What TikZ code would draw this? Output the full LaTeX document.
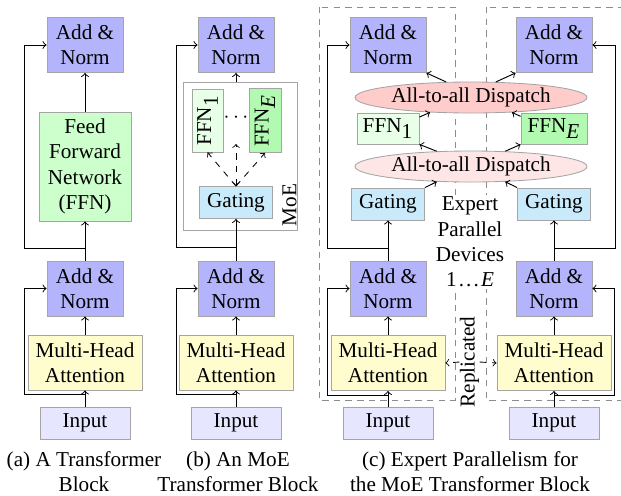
\documentclass[tikz,border=0pt]{standalone}
\usepackage{fontspec}
\setmainfont{Liberation Serif}
\usepackage{graphicx}
\usetikzlibrary{shapes.geometric}

\definecolor{andcol}{RGB}{180,180,252}
\definecolor{ffncol}{RGB}{204,255,204}
\definecolor{ffnlite}{RGB}{232,255,232}
\definecolor{ffndark}{RGB}{178,250,178}
\definecolor{mhacol}{RGB}{255,253,206}
\definecolor{inpcol}{RGB}{230,230,255}
\definecolor{gatecol}{RGB}{200,234,250}
\definecolor{dispdark}{RGB}{255,204,204}
\definecolor{displite}{RGB}{255,230,230}
\definecolor{edgecol}{RGB}{165,165,165}
\definecolor{dashcol}{RGB}{140,140,140}

\begin{document}
\begin{tikzpicture}[x=0.472pt,y=-0.472pt,
  box/.style={draw=edgecol,line width=0.4pt,inner sep=0pt,align=center},
  sz/.style 2 args={minimum width=#1*0.472pt,minimum height=#2*0.472pt},
  addn/.style={box,fill=andcol,sz={76}{55}},
  mha/.style={box,fill=mhacol,sz={114}{55}},
  inp/.style={box,fill=inpcol,sz={90}{32}},
  gate/.style={box,fill=gatecol,sz={73}{32}},
  disp/.style={ellipse,draw=edgecol,line width=0.4pt,inner sep=0pt,sz={232}{31}},
  conn/.style={->,line width=0.45pt},
  devbox/.style={draw=dashcol,dash pattern=on 3pt off 2.5pt,line width=0.35pt},
  captext/.style={align=center,inner sep=0pt},
]
\useasboundingbox (0,0) rectangle (621,495);

% ---------- (a) Transformer block ----------
\node[addn] (aA1) at (85,45) {Add \&\\Norm};
\node[box,fill=ffncol,sz={92}{109}] (aF) at (85,166.5) {Feed\\Forward\\Network\\(FFN)};
\node[addn] (aA2) at (85,288.5) {Add \&\\Norm};
\node[mha] (aM) at (85,362.5) {Multi-Head\\Attention};
\node[inp] (aI) at (85,423) {Input};
\coordinate (aR1) at (85,248);
\coordinate (aR2) at (85,394);
\draw[conn] (aF) -- (aA1);
\draw[conn] (aA2) -- (aF);
\draw[conn] (aR1) -- ++(-61,0) |- (aA1.west);
\draw[conn] (aM) -- (aA2);
\draw[conn] (aI) -- (aM);
\draw[conn] (aR2) -- ++(-61,0) |- (aA2.west);
\node[captext] (capA) at (84,471.5) {(a) A Transformer\\Block};

% ---------- (b) MoE transformer block ----------
\node[box,sz={114}{148}] (bMoE) at (240,156) {};
\node[inner sep=0pt] (bMoEl) at (289.5,205) {\rotatebox{90}{MoE}};
\node[addn] (bA1) at (236,45) {Add \&\\Norm};
\node[box,fill=ffnlite,sz={31}{63}] (bF1) at (207.5,120.5) {\rotatebox{90}{FFN$_{\textrm{1}}$}};
\node[box,fill=ffndark,sz={32}{64}] (bFE) at (265,120.5) {\rotatebox{90}{FFN$_{\textit{E}}$}};
\node[inner sep=0pt] (bDots) at (236,118) {$\cdots$};
\node[gate] (bG) at (236,202.5) {Gating};
\coordinate (bMid) at (236,144);
\draw[dashed,<->] (bG.north) -- (bMid);
\draw[dashed,->] (bG.north) -- (bF1.south);
\draw[dashed,->] (bG.north) -- (bFE.south);
\draw[conn] (bMoE.north -| bA1.south) -- (bA1.south);
\node[addn] (bA2) at (236,288.5) {Add \&\\Norm};
\node[mha] (bM) at (236,362.5) {Multi-Head\\Attention};
\node[inp] (bI) at (236,423) {Input};
\coordinate (bR1) at (236,247);
\coordinate (bR2) at (236,394);
\draw[conn] (bA2) -- (bG);
\draw[conn] (bR1) -- ++(-60,0) |- (bA1.west);
\draw[conn] (bM) -- (bA2);
\draw[conn] (bI) -- (bM);
\draw[conn] (bR2) -- ++(-60,0) |- (bA2.west);
\node[captext] (capB) at (238,471.5) {(b) An MoE\\Transformer Block};

% ---------- (c) Expert parallelism ----------
\draw[devbox] (319,7) rectangle (455,400);
\draw[devbox] (486,7) rectangle (640,400);

\node[addn] (cA1) at (388,45) {Add \&\\Norm};
\node[addn] (cA2) at (554,45) {Add \&\\Norm};
\node[disp,fill=dispdark] (cTD) at (471,97.5) {All-to-all Dispatch};
\node[box,fill=ffnlite,sz={62}{31}] (cF1) at (388,128.5) {FFN$_{\textrm{1}}$};
\node[box,fill=ffndark,sz={66}{31}] (cFE) at (554,128.5) {FFN$_{\textit{E}}$};
\node[disp,fill=displite] (cBD) at (471,166.5) {All-to-all Dispatch};
\node[gate] (cG1) at (388,204) {Gating};
\node[gate] (cG2) at (554,204) {Gating};

\draw[conn] (cG1.north east) -- (cBD.204);
\draw[conn] (cG2.north west) -- (cBD.336);
\draw[conn] (cBD.156) -- (cF1.south east);
\draw[conn] (cBD.24) -- (cFE.south west);
\draw[conn] (cF1.20) -- (cTD.200);
\draw[conn] (cFE.160) -- (cTD.340);
\draw[conn] (cTD.148) -- (cA1.south east);
\draw[conn] (cTD.32) -- (cA2.south west);

\node[fill=white,align=center,inner sep=1pt] (cDev) at (470,242)
  {Expert\\Parallel\\Devices\\1\kern1pt.\kern1pt.\kern1pt.\kern1pt\textit{E}};

\node[addn] (cA3) at (388,288.5) {Add \&\\Norm};
\node[addn] (cA4) at (554,288.5) {Add \&\\Norm};
\node[mha] (cM1) at (388,363) {Multi-Head\\Attention};
\node[mha] (cM2) at (554,363) {Multi-Head\\Attention};
\node[inp] (cI1) at (388,423) {Input};
\node[inp] (cI2) at (554,423) {Input};

\coordinate (cR1) at (388,248);
\coordinate (cR2) at (554,248);
\coordinate (cR3) at (388,395);
\coordinate (cR4) at (554,395);
\draw[conn] (cA3) -- (cG1);
\draw[conn] (cA4) -- (cG2);
\draw[conn] (cR1) -- ++(-61,0) |- (cA1.west);
\draw[conn] (cR2) -- ++(61,0) |- (cA2.east);
\draw[conn] (cM1) -- (cA3);
\draw[conn] (cM2) -- (cA4);
\draw[conn] (cI1) -- (cM1);
\draw[conn] (cI2) -- (cM2);
\draw[conn] (cR3) -- ++(-61,0) |- (cA3.west);
\draw[conn] (cR4) -- ++(60,0) |- (cA4.east);

\node[inner sep=0pt] (cRep) at (469.5,362) {\rotatebox{90}{Replicated}};
\draw[dashed,->] (cRep.west) -- (cM1.east);
\draw[dashed,->] (cRep.east) -- (cM2.west);

\node[captext] (capC) at (470,471.5) {(c) Expert Parallelism for\\the MoE Transformer Block};
\end{tikzpicture}
\end{document}
